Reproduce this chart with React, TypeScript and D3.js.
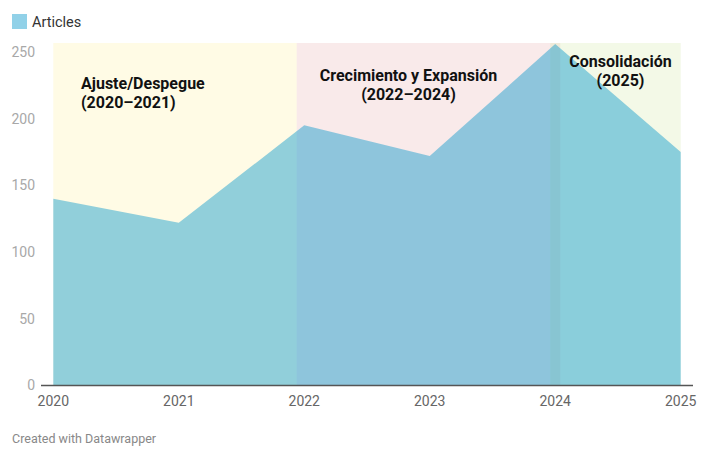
import React from "react";
import * as d3 from "d3";

const years = [2020, 2021, 2022, 2023, 2024, 2025];
const articles = [140, 122, 195, 172, 256, 175];
const yTicks = [0, 50, 100, 150, 200, 250];
const xTicks = [2020, 2021, 2022, 2023, 2024, 2025];
const bandStarts = [2020, 2021.94, 2023.96];
const bandEnds = [2021.94, 2024.04, 2025];
const bandTitles = ["Ajuste/Despegue", "Crecimiento y Expansión", "Consolidación"];
const bandPeriods = ["(2020–2021)", "(2022–2024)", "(2025)"];
const seriesName = "Articles";

const W = 708;
const H = 458;
const FONT = "Roboto, 'Noto Sans', sans-serif";

const bandFill = ["#fff3a8", "#ecb8b8", "#d8eab0"];
const bandOpacity = 0.3;
const areaColor = "#0b9acb";
const areaOpacity = 0.45;

// annotation layout: [x, baseline y of first line, anchor]
const annLayout: [number, number, "start" | "middle"][] = [
  [81, 89, "start"],
  [408.5, 81, "middle"],
  [620.5, 67, "middle"],
];

export default function App() {
  const x = d3.scaleLinear().domain([2020, 2025]).range([53.3, 680.7]);
  const y = d3.scaleLinear().domain([0, 256]).range([385.5, 44]);
  const top = y.range()[1] - 1;
  const bottom = y(0);

  const area = d3
    .area<number>()
    .x((_, i) => x(years[i]))
    .y0(bottom)
    .y1((d) => y(d))
    .curve(d3.curveLinear);

  return (
    <div style={{ position: "absolute", left: 0, top: 0, width: W, height: H, background: "#fff" }}>
      <svg width={W} height={H} style={{ display: "block", fontFamily: FONT }}>
        {/* legend */}
        <rect x={12} y={14} width={15} height={15} fill={areaColor} fillOpacity={areaOpacity} />
        <text x={32} y={26.5} fontSize={14.5} fill="#333">{seriesName}</text>

        {/* bands */}
        {bandStarts.map((s, i) => (
          <rect
            key={"b" + i}
            x={x(s)}
            y={top}
            width={x(bandEnds[i]) - x(s)}
            height={bottom - top}
            fill={bandFill[i]}
            fillOpacity={bandOpacity}
          />
        ))}

        {/* area */}
        <path d={area(articles) || ""} fill={areaColor} fillOpacity={areaOpacity} />

        {/* y tick labels */}
        {yTicks.map((t) => (
          <text key={"y" + t} x={35} y={y(t)} dy="0.35em" textAnchor="end" fontSize={14} fill="#a8a8a8">
            {t}
          </text>
        ))}

        {/* baseline */}
        <line x1={41} x2={693} y1={385.5} y2={385.5} stroke="#555" strokeWidth={1.5} />

        {/* x tick labels */}
        {xTicks.map((t) => (
          <text key={"x" + t} x={x(t)} y={405.5} textAnchor="middle" fontSize={14} fill="#666">
            {t}
          </text>
        ))}

        {/* annotations */}
        {bandTitles.map((title, i) => {
          const [ax, ay, anchor] = annLayout[i];
          return (
            <text key={"a" + i} x={ax} y={ay} textAnchor={anchor} fontSize={16} fontWeight={700} fill="#111">
              <tspan x={ax}>{title}</tspan>
              <tspan x={ax} dy={19}>{bandPeriods[i]}</tspan>
            </text>
          );
        })}

        {/* footer */}
        <text x={12} y={443} fontSize={12.5} fill="#888">Created with Datawrapper</text>
      </svg>
    </div>
  );
}
